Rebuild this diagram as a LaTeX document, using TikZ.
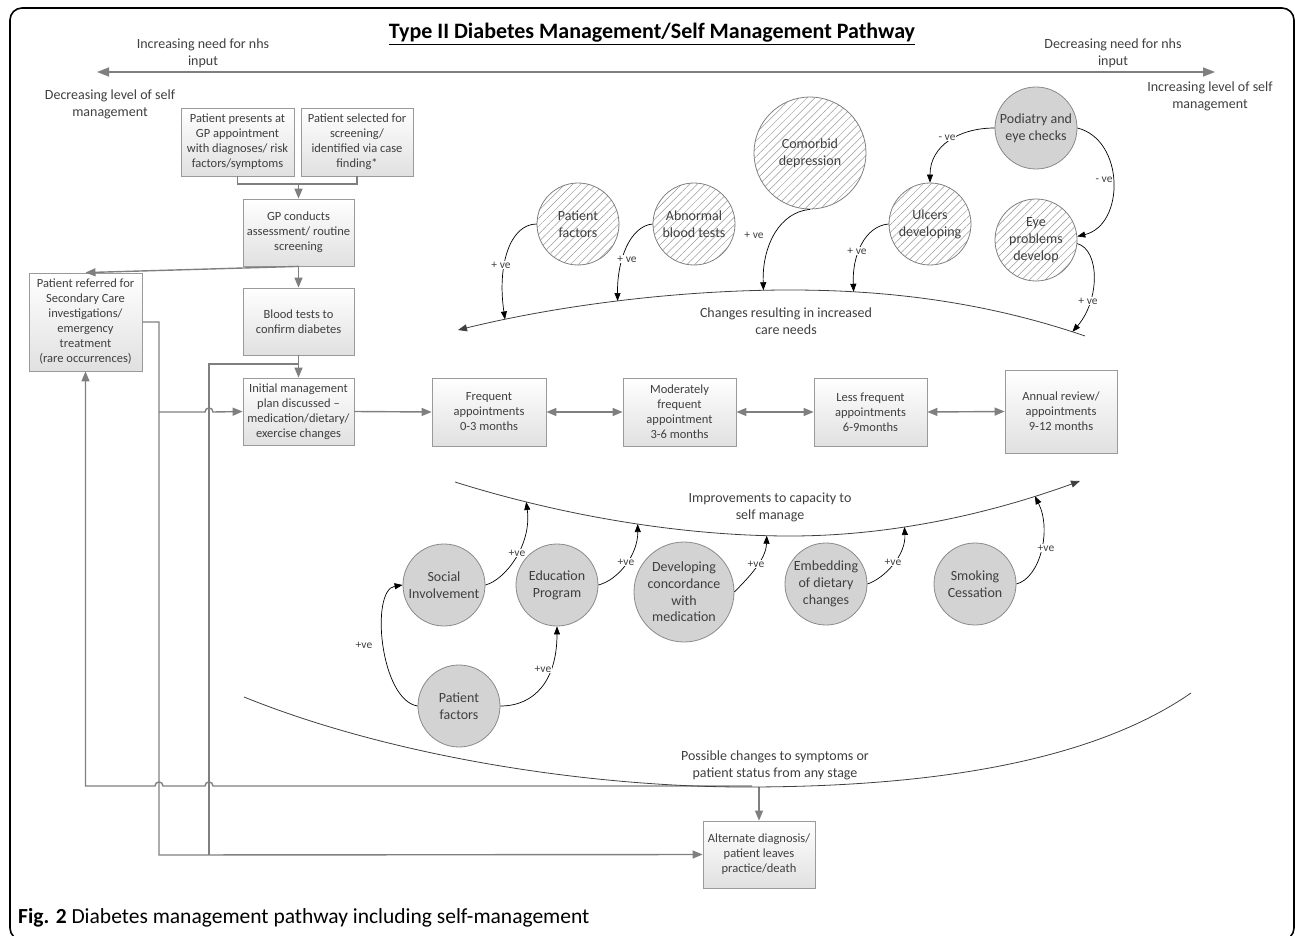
\documentclass[tikz,border=0pt]{standalone}
\usepackage{fontspec}
\setmainfont{Carlito}
\usetikzlibrary{arrows.meta,patterns.meta}
\definecolor{lg}{HTML}{7F7F7F}
\definecolor{tx}{HTML}{3F3F3F}
\definecolor{cf}{HTML}{D3D3D3}
\definecolor{cb}{HTML}{8A8A8A}
\definecolor{hb}{HTML}{808080}
\definecolor{hp}{HTML}{9A9A9A}
\definecolor{bb}{HTML}{9A9A9A}
\definecolor{cv}{HTML}{404040}
\begin{document}
\begin{tikzpicture}[x=1pt,y=-1pt,
  box/.style={draw=bb, line width=0.8pt, top color=white, bottom color=black!12, text=tx, align=center, font=\fontsize{12.5}{15}\selectfont, inner sep=1pt},
  hcirc/.style={circle, draw=hb, line width=0.8pt, pattern={Lines[angle=45,distance=5.5pt,line width=0.5pt]}, pattern color=hp, text=tx, align=center, font=\fontsize{14}{16.7}\selectfont, inner sep=0pt, minimum size=82pt},
  gcirc/.style={circle, draw=cb, fill=cf, line width=0.8pt, text=tx, align=center, font=\fontsize{14}{16.7}\selectfont, inner sep=0pt, minimum size=82pt},
  gline/.style={draw=lg, line width=1.4pt},
  garrow/.style={gline, -{Triangle[length=10pt,width=8pt]}},
  gdarrow/.style={gline, {Triangle[length=10pt,width=8pt]}-{Triangle[length=10pt,width=8pt]}},
  carrow/.style={draw=black, line width=0.7pt, -{Triangle[length=8pt,width=6pt]}},
  curvel/.style={draw=cv, line width=0.8pt},
  lab/.style={font=\fontsize{11.5}{13}\selectfont, text=tx, fill=white, inner sep=0.6pt},
  toplab/.style={font=\fontsize{14}{17}\selectfont, text=tx, align=center}
]
\useasboundingbox (0,0) rectangle (1295,936);
% frame
\draw[line width=1.6pt, rounded corners=12pt] (10,8) rectangle (1294,940);

% title and axis
\node (title) at (652,34) {\fontsize{22}{26}\selectfont\bfseries\underline{Type II Diabetes Management/Self Management Pathway}};
\coordinate (aL) at (97,72);
\coordinate (aR) at (1215,72);
\draw[gline, line width=1.6pt, {Triangle[length=12pt,width=9pt]}-{Triangle[length=12pt,width=9pt]}] (aL) -- (aR);
\node[toplab] (t1) at (203,53.5) {Increasing need for nhs\\input};
\node[toplab] (t2) at (110,104.5) {Decreasing level of self\\management};
\node[toplab] (t3) at (1113,53.5) {Decreasing need for nhs\\input};
\node[toplab] (t4) at (1210,96.5) {Increasing level of self\\management};

% boxes
\node[box, minimum width=113pt, minimum height=68pt] (B1) at (237.5,142) {Patient presents at\\GP appointment\\with diagnoses/ risk\\factors/symptoms};
\node[box, minimum width=112pt, minimum height=68pt] (B2) at (357,142) {Patient selected for\\screening/\\identified via case\\finding*};
\node[box, minimum width=111pt, minimum height=67pt] (B3) at (298.5,232.5) {GP conducts\\assessment/ routine\\screening};
\node[box, minimum width=111pt, minimum height=67pt] (B4) at (298.5,321.5) {Blood tests to\\confirm diabetes};
\node[box, minimum width=113pt, minimum height=98pt] (B5) at (85.5,322) {Patient referred for\\Secondary Care\\investigations/\\emergency\\treatment\\(rare occurrences)};
\node[box, minimum width=111pt, minimum height=67pt] (B6) at (298.5,411.5) {Initial management\\plan discussed –\\medication/dietary/\\exercise changes};
\node[box, minimum width=114pt, minimum height=68pt] (B7) at (489,412) {Frequent\\appointments\\0-3 months};
\node[box, minimum width=113pt, minimum height=68pt] (B8) at (679.5,412) {Moderately\\frequent\\appointment\\3-6 months};
\node[box, minimum width=113pt, minimum height=68pt] (B9) at (870.5,412) {Less frequent\\appointments\\6-9months};
\node[box, minimum width=112pt, minimum height=83pt] (B10) at (1061,411.5) {Annual review/\\appointments\\9-12 months};
\node[box, minimum width=112pt, minimum height=67pt] (B11) at (759,854.5) {Alternate diagnosis/\\patient leaves\\practice/death};

% flowchart connectors
\coordinate (m1) at (298.5,184);
\draw[gline] (B1.south) |- (m1) -| (B2.south);
\draw[garrow] (m1) -- (B3.north);
\draw[garrow] (B3.south) -- (B4.north);
\draw[garrow] (B3.south) -- (B5.north);
\draw[garrow] (B4.south) -- (B6.north);
\coordinate (j1) at (298.5,364);
\coordinate (v2b) at (209,855);
\draw[gline] (j1) -| (v2b);
\coordinate (v1a) at (159,322);
\coordinate (v1m) at (159,412);
\coordinate (v1b) at (159,855);
\draw[garrow] (B5.east) -- (v1a) -- (v1b) -- (B11.west);
\draw[garrow] (v1m) -- (205,412) .. controls (205,406.7) and (213,406.7) .. (213,412) -- (B6.west);
\coordinate (hs) at (752,786);
\draw[garrow] (hs) -- (213,786) .. controls (213,780.7) and (205,780.7) .. (205,786) -- (163,786) .. controls (163,780.7) and (155,780.7) .. (155,786) -- (85.5,786) -- (B5.south);
\coordinate (cm) at (759,787);
\draw[garrow] (cm) -- (B11.north);
\draw[garrow] (B6.east) -- (B7.west);
\draw[gdarrow] (B7.east) -- (B8.west);
\draw[gdarrow] (B8.east) -- (B9.west);
\draw[gdarrow] (B9.east) -- (B10.west);

% upper circles
\node[hcirc] (PF1) at (578,224) {Patient\\factors};
\node[hcirc] (ABT) at (694,224) {Abnormal\\blood tests};
\node[hcirc, minimum size=112pt] (CD) at (810,153) {Comorbid\\depression};
\node[hcirc] (UD) at (930,224) {Ulcers\\developing};
\node[hcirc] (EP) at (1036,240) {Eye\\problems\\develop};
\node[gcirc] (PEC) at (1036,128) {Podiatry and\\eye checks};

% upper curve
\draw[curvel, -{Triangle[length=9pt,width=7pt]}] (1085,336) .. controls (980,300) and (880,290) .. (790,290) coordinate[pos=0.04] (u5) coordinate[pos=0.77] (u4)
  .. controls (680,290) and (560,305) .. (458,330) coordinate[pos=0.08] (u3) coordinate[pos=0.51] (u2) coordinate[pos=0.85] (u1);
\node[toplab] (t5) at (786,321) {Changes resulting in increased\\care needs};

\draw[carrow] (PF1.west) .. controls (510,224) and (497,265) .. (u1);
\draw[carrow] (ABT.west) .. controls (630,226) and (617,260) .. (u2);
\draw[carrow] (CD.south) .. controls (780,212) and (762,245) .. (u3);
\draw[carrow] (UD.west) .. controls (865,226) and (852,255) .. (u4);
\draw[carrow] (EP.-5) .. controls (1100,250) and (1100,300) .. (u5);
\draw[carrow] (PEC.west) .. controls (960,128) and (930,145) .. (UD.north);
\draw[carrow] (PEC.east) .. controls (1125,140) and (1125,225) .. (EP.5);
\node[lab] (L1) at (501,265) {+ ve};
\node[lab] (L2) at (627,259) {+ ve};
\node[lab] (L3) at (754,235) {+ ve};
\node[lab] (L4) at (857,251) {+ ve};
\node[lab] (L5) at (1088,301) {+ ve};
\node[lab] (L6) at (947,138) {- ve};
\node[lab] (L7) at (1104,180) {- ve};

% lower curve
\draw[curvel, -{Triangle[length=9pt,width=7pt]}] (455,482) .. controls (560,515) and (680,536) .. (790,536) coordinate[pos=0.22] (l1) coordinate[pos=0.55] (l2) coordinate[pos=0.93] (l3)
  .. controls (900,536) and (1000,510) .. (1080,481) coordinate[pos=0.36] (l4) coordinate[pos=0.82] (l5);
\node[toplab] (t6) at (770,507) {Improvements to capacity to\\self manage};

% lower circles
\node[gcirc] (SI) at (444,585) {Social\\Involvement};
\node[gcirc] (EDP) at (557,585) {Education\\Program};
\node[gcirc, minimum size=100pt] (DCM) at (684,592) {Developing\\concordance\\with\\medication};
\node[gcirc] (EDC) at (826,584) {Embedding\\of dietary\\changes};
\node[gcirc] (SC) at (975,584) {Smoking\\Cessation};
\node[gcirc] (PF2) at (459,706) {Patient\\factors};

\draw[carrow] (PF2.west) .. controls (380,700) and (370,590) .. (SI.west);
\draw[carrow] (PF2.east) .. controls (535,706) and (557,680) .. (EDP.south);
\draw[carrow] (SI.east) .. controls (505,580) and (532,545) .. (l1);
\draw[carrow] (EDP.east) .. controls (618,580) and (638,555) .. (l2);
\draw[carrow] (DCM.east) .. controls (748,578) and (766,560) .. (l3);
\draw[carrow] (EDC.east) .. controls (885,578) and (906,555) .. (l4);
\draw[carrow] (SC.east) .. controls (1040,578) and (1052,530) .. (l5);
\node[lab] (M1) at (364,645) {+ve};
\node[lab] (M2) at (543,669) {+ve};
\node[lab] (M3) at (517,553) {+ve};
\node[lab] (M4) at (626,562) {+ve};
\node[lab] (M5) at (756,564) {+ve};
\node[lab] (M6) at (893,562) {+ve};
\node[lab] (M7) at (1046,548) {+ve};

% bottom curve
\draw[curvel] (244,697) .. controls (400,760) and (600,787) .. (745,787) .. controls (900,787) and (1080,770) .. (1191,693);
\node[toplab] (t7) at (775,765) {Possible changes to symptoms or\\patient status from any stage};

% caption
\node[anchor=west, inner sep=0pt] (cap) at (18,918) {\fontsize{21.5}{24}\selectfont\textbf{Fig. 2} Diabetes management pathway including self-management};
\end{tikzpicture}
\end{document}
